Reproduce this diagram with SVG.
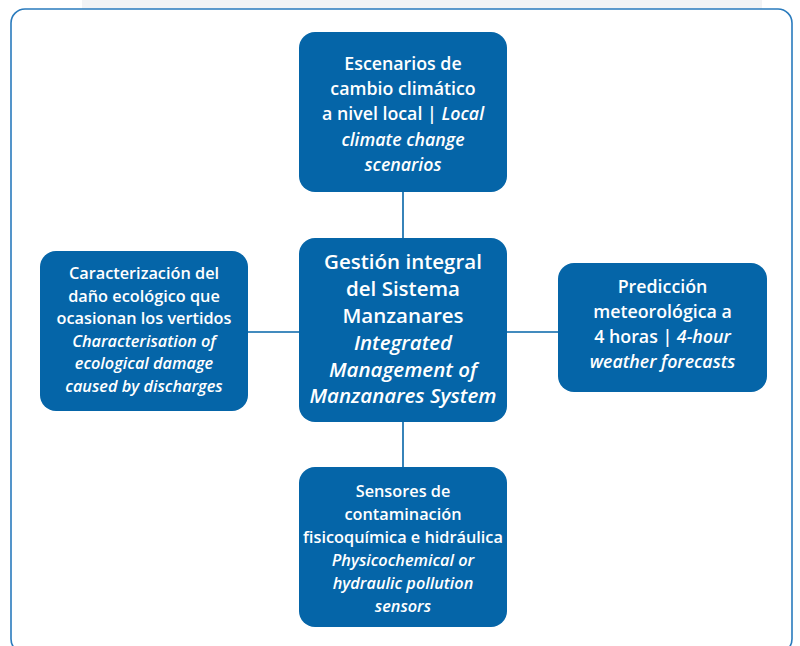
<svg xmlns="http://www.w3.org/2000/svg" width="800" height="646" viewBox="0 0 800 646">
  <style>
    .frame { fill: #ffffff; stroke: #2a7bbd; stroke-width: 1.6; }
    .box { fill: #0565a8; }
    .link { stroke: #0565a8; stroke-width: 1.6; fill: none; }
    text { font-family: "Open Sans", "Noto Sans", sans-serif; font-weight: 600; fill: #ffffff; text-anchor: middle; }
    .it { font-style: italic; }
    .s16 { font-size: 16.3px; }
    .s18 { font-size: 17.8px; }
    .s21 { font-size: 20.5px; }
  </style>

  <!-- page background and panel -->
  <rect x="0" y="0" width="800" height="646" fill="#ffffff"/>
  <rect x="82" y="0" width="680" height="9" fill="#f2f3f5"/>
  <rect class="frame" x="11" y="9" width="781" height="644" rx="14" ry="14"/>

  <!-- connectors -->
  <g id="connectors">
    <line class="link" x1="403" y1="192" x2="403" y2="238"/>
    <line class="link" x1="403" y1="422" x2="403" y2="467"/>
    <line class="link" x1="248" y1="332" x2="299" y2="332"/>
    <line class="link" x1="507" y1="332" x2="558" y2="332"/>
  </g>

  <!-- top: local climate change scenarios -->
  <g id="node-scenarios">
    <rect class="box" x="299" y="32" width="208" height="160" rx="16"/>
    <text class="s18" x="403" y="69.5">Escenarios de</text>
    <text class="s18" x="403" y="95">cambio climático</text>
    <text class="s18" x="403" y="120">a nivel local | <tspan class="it">Local</tspan></text>
    <text class="s18 it" x="403" y="145.5">climate change</text>
    <text class="s18 it" x="403" y="170.5">scenarios</text>
  </g>

  <!-- centre: integrated management -->
  <g id="node-management">
    <rect class="box" x="299" y="238" width="208" height="184" rx="16"/>
    <text class="s21" x="403" y="269">Gestión integral</text>
    <text class="s21" x="403" y="296">del Sistema</text>
    <text class="s21" x="403" y="323">Manzanares</text>
    <text class="s21 it" x="403" y="350">Integrated</text>
    <text class="s21 it" x="403" y="377">Management of</text>
    <text class="s21 it" x="403" y="403">Manzanares System</text>
  </g>

  <!-- left: ecological damage -->
  <g id="node-damage">
    <rect class="box" x="40" y="251" width="208" height="160" rx="16"/>
    <text class="s16" x="144" y="279">Caracterización del</text>
    <text class="s16" x="144" y="301.5">daño ecológico que</text>
    <text class="s16" x="144" y="324">ocasionan los vertidos</text>
    <text class="s16 it" x="144" y="346.5">Characterisation of</text>
    <text class="s16 it" x="144" y="369">ecological damage</text>
    <text class="s16 it" x="144" y="391.5">caused by discharges</text>
  </g>

  <!-- right: weather forecasts -->
  <g id="node-forecast">
    <rect class="box" x="558" y="263" width="209" height="129" rx="16"/>
    <text class="s18" x="662.5" y="293">Predicción</text>
    <text class="s18" x="662.5" y="318">meteorológica a</text>
    <text class="s18" x="662.5" y="343">4 horas | <tspan class="it">4-hour</tspan></text>
    <text class="s18 it" x="662.5" y="368">weather forecasts</text>
  </g>

  <!-- bottom: pollution sensors -->
  <g id="node-sensors">
    <rect class="box" x="299" y="467" width="208" height="160" rx="16"/>
    <text class="s16" x="403" y="497">Sensores de</text>
    <text class="s16" x="403" y="520">contaminación</text>
    <text class="s16" x="403" y="543">fisicoquímica e hidráulica</text>
    <text class="s16 it" x="403" y="566">Physicochemical or</text>
    <text class="s16 it" x="403" y="589">hydraulic pollution</text>
    <text class="s16 it" x="403" y="612">sensors</text>
  </g>
</svg>
